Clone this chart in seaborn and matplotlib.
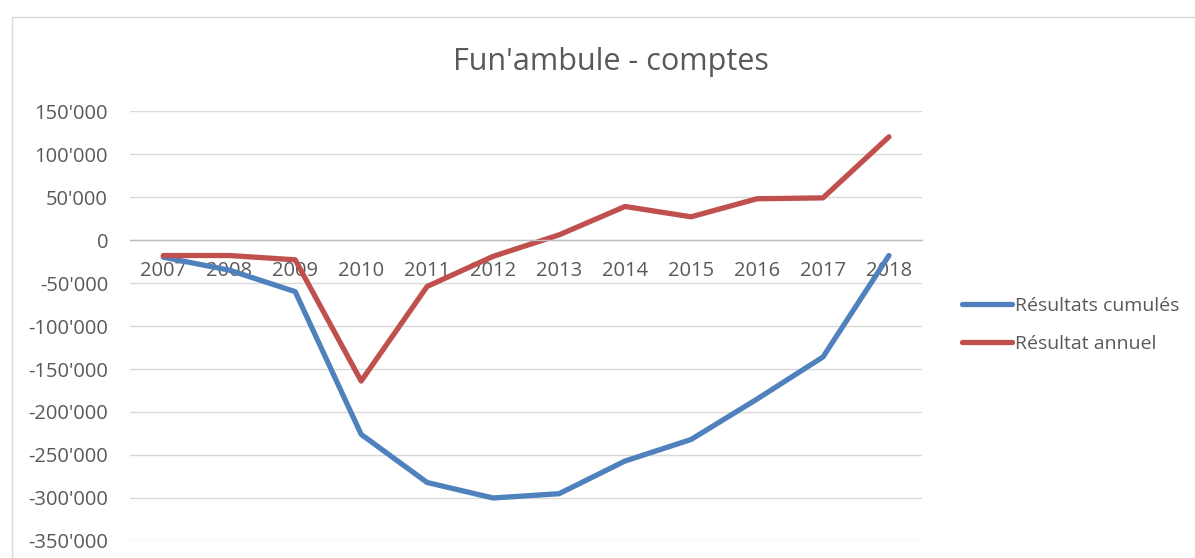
import matplotlib
matplotlib.use('Agg')
import matplotlib.pyplot as plt
from matplotlib.patches import Rectangle
from matplotlib.ticker import FuncFormatter, FixedLocator
import seaborn as sns
import pandas as pd

# ------------------------------------------------------------
# Données
# ------------------------------------------------------------
annees = ['2007', '2008', '2009', '2010', '2011', '2012',
          '2013', '2014', '2015', '2016', '2017', '2018']
resultats_cumules = [-20000, -35000, -60000, -226000, -282000, -300000,
                     -295000, -257000, -232000, -185000, -136000, -18000]
resultat_annuel = [-18000, -18000, -23000, -164000, -54000, -19000,
                   6000, 39000, 27000, 48000, 49000, 120000]
series = ['Résultats cumulés', 'Résultat annuel']
couleurs = ['#4F81BD', '#C0504D']

df = pd.DataFrame({
    'annee': annees * 2,
    'valeur': resultats_cumules + resultat_annuel,
    'serie': [series[0]] * len(annees) + [series[1]] * len(annees),
})

# ------------------------------------------------------------
# Figure
# ------------------------------------------------------------
sns.set_style('white')
plt.rcParams['font.family'] = ['Open Sans', 'DejaVu Sans']
GRIS = '#595959'

fig = plt.figure(figsize=(11.95, 5.58), dpi=100)
ax = fig.add_axes([0.109, 0.0305, 0.6625, 0.7705])

sns.lineplot(data=df, x='annee', y='valeur', hue='serie', sort=False,
             palette=dict(zip(series, couleurs)), linewidth=3.8,
             ax=ax, legend=False)

ax.set_xlim(-0.5, len(annees) - 0.5)
ax.set_ylim(-350000, 150000)
ax.set_yticks(range(-350000, 150001, 50000))
ax.yaxis.set_major_formatter(FuncFormatter(
    lambda v, p: f"{int(v):,}".replace(',', "'")))
ax.grid(axis='y', color='#D9D9D9', linewidth=1)
ax.set_axisbelow(True)

for s in ['top', 'right', 'left']:
    ax.spines[s].set_visible(False)
ax.spines['bottom'].set_position(('data', 0))
ax.spines['bottom'].set_color('#BFBFBF')
ax.spines['bottom'].set_linewidth(1)

ax.xaxis.set_minor_locator(FixedLocator([i - 0.5 for i in range(len(annees) + 1)]))
ax.tick_params(axis='x', which='major', length=0, pad=15, labelsize=14.5, labelcolor=GRIS)
ax.tick_params(axis='x', which='minor', length=6, color='#BFBFBF', direction='out')
ax.tick_params(axis='y', length=0, pad=16, labelsize=14.5, labelcolor=GRIS)
ax.set_xlabel('')
ax.set_ylabel('')

fig.text(0.511, 0.888, "Fun'ambule - comptes", ha='center', va='center',
         fontsize=22, color=GRIS)

# Légende
handles = [plt.Line2D([], [], color=c, linewidth=3.8) for c in couleurs]
fig.legend(handles, series, loc='center left', bbox_to_anchor=(0.79, 0.418),
           frameon=False, fontsize=14, labelcolor=GRIS, handlelength=2.6,
           handletextpad=0.15, labelspacing=1.05)

# Cadre du graphique
fig.patches.append(Rectangle((12 / 1195, -0.1), 1.2, 1 - 17 / 558 + 0.1,
                             transform=fig.transFigure, fill=False,
                             edgecolor='#D9D9D9', linewidth=1))

fig.savefig('out.png', dpi=100)
